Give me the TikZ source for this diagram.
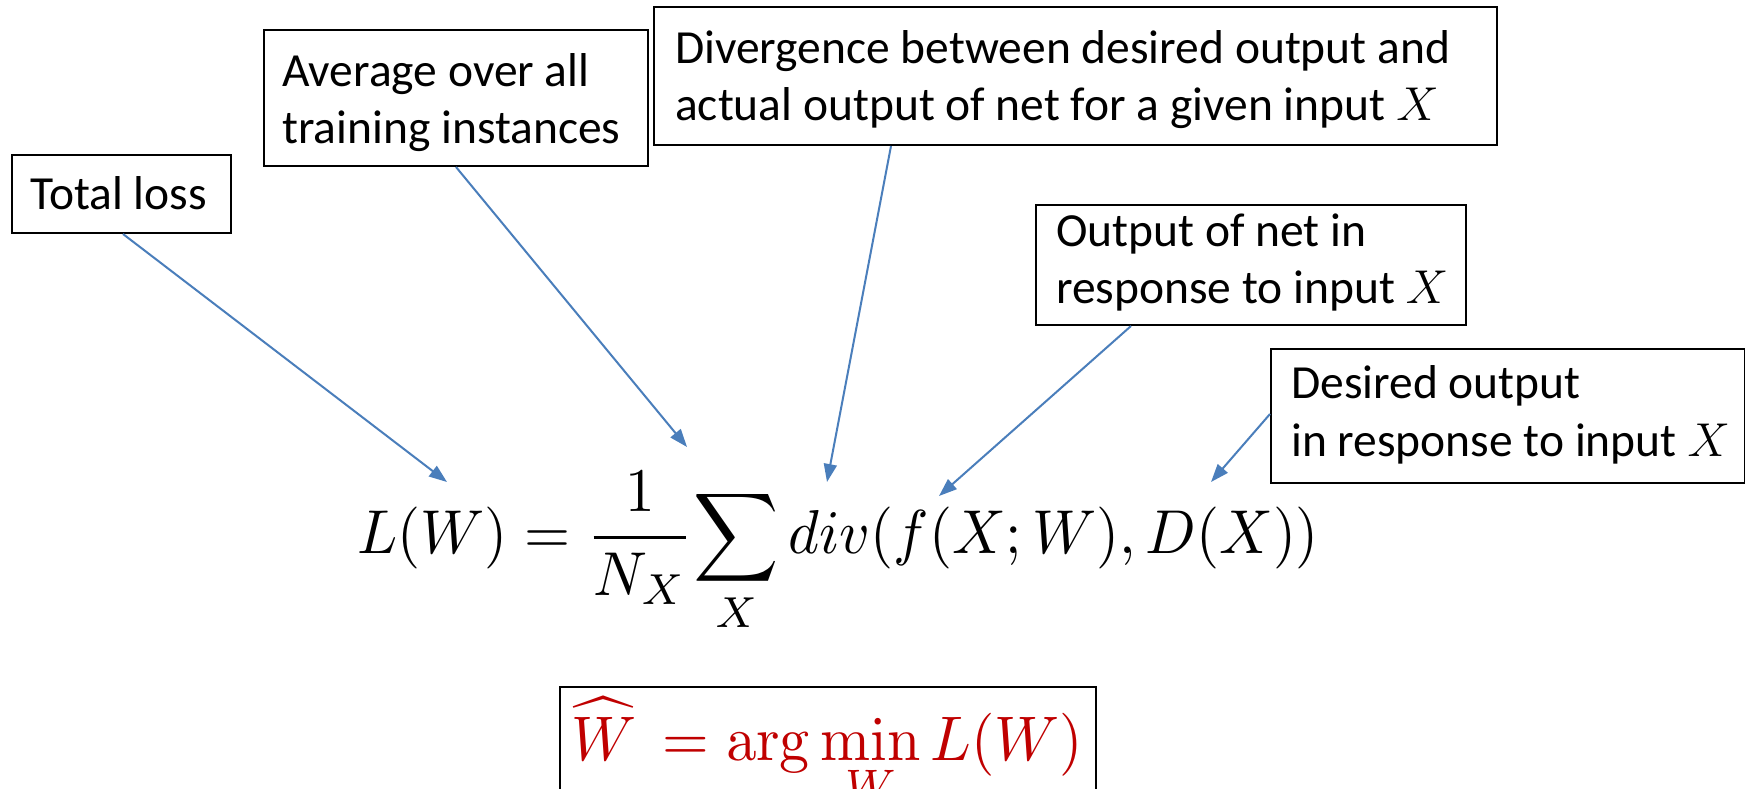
\documentclass[tikz,border=0pt]{standalone}
\usepackage{fix-cm}
\usepackage[no-math]{fontspec}
\setmainfont{Carlito}
\usepackage{graphicx}
\usetikzlibrary{arrows.meta}
\definecolor{arrowblue}{HTML}{4A7EBB}
\definecolor{eqred}{HTML}{C00000}
\begin{document}
\begin{tikzpicture}[x=1pt,y=-1pt,
  box/.style={draw=black, line width=2pt, inner sep=0pt, anchor=north west, fill=white},
  lbl/.style={anchor=base west, inner sep=0pt, font=\fontsize{47.5}{54}\selectfont},
  eqstyle/.style={anchor=base west, inner sep=0pt},
  pointer/.style={draw=arrowblue, line width=2pt, -{Triangle[length=18pt,width=13pt]}}]
\clip (0,0) rectangle (1745,788);
\fill[white] (0,0) rectangle (1745,788);

% boxes
\node[box, minimum width=219pt, minimum height=78pt]  (tl)  at (11,154)  {};
\node[box, minimum width=384pt, minimum height=136pt] (avg) at (263,29)  {};
\node[box, minimum width=843pt, minimum height=138pt] (dv)  at (653,6)   {};
\node[box, minimum width=430pt, minimum height=120pt] (out) at (1035,204) {};
\node[box, minimum width=474pt, minimum height=134pt] (des) at (1270,348) {};
\node[box, minimum width=536pt, minimum height=130pt] (rbox) at (559,686) {};

% labels
\node[lbl] (tlA)  at (30,209)   {Total loss};
\node[lbl] (avgA) at (282,86)   {Average over all};
\node[lbl] (avgB) at (282,143)  {training instances};
\node[lbl] (dvA)  at (675,63)   {Divergence between desired output and};
\node[lbl] (dvB)  at (675,120)  {actual output of net for a given input $X$};
\node[lbl] (outA) at (1056,246) {Output of net in};
\node[lbl] (outB) at (1056,303) {response to input $X$};
\node[lbl] (desA) at (1291,398) {Desired output};
\node[lbl] (desB) at (1291,456) {in response to input $X$};

% equations
\node[eqstyle] (eq) at (357,553)
  {\scalebox{5.92}[6.2]{$\displaystyle L(W)=\frac{1}{N_X}\!\sum_X div(f(X;W),D(X))$}};
\node[eqstyle, text=eqred] (req) at (571,760)
  {\scalebox{6.0}[6.3]{$\displaystyle \widehat{W}\,=\arg\min_W L(W)$}};

% arrow tips
\coordinate (tipL)   at (447,482);
\coordinate (tipSum) at (687,447);
\coordinate (tipDiv) at (827,482);
\coordinate (tipF)   at (939,496);
\coordinate (tipD)   at (1211,482);

\draw[pointer] ([xshift=1.5pt]tl.south) -- (tipL);
\draw[pointer] (avg.south) -- (tipSum);
\draw[pointer] ([xshift=-184.5pt]dv.south) -- (tipDiv);
\draw[pointer] ([xshift=-120pt]out.south) -- (tipF);
\draw[pointer] ([yshift=2pt]des.west) -- (tipD);
\end{tikzpicture}
\end{document}
